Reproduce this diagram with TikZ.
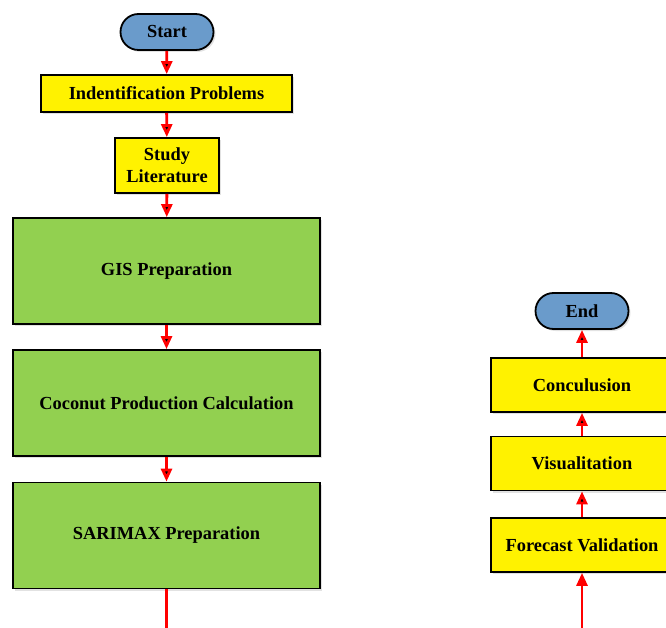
\documentclass[tikz,border=0pt]{standalone}
\usepackage{fontspec}
\setmainfont{Liberation Serif}
\usepackage{xcolor}
\usetikzlibrary{arrows.meta,shadows}
\definecolor{capblue}{RGB}{106,155,203}
\definecolor{boxgreen}{RGB}{146,208,80}
\begin{document}
\begin{tikzpicture}[x=1pt,y=-1pt,->,>={Triangle[width=11pt,length=13pt]},
    font=\fontsize{18.4}{22}\selectfont\bfseries]
    \tikzstyle{every node}=[draw=black, line width=1.8pt, inner sep=0pt, align=center,
        drop shadow={shadow xshift=2pt, shadow yshift=-2pt, fill=gray!45}]
    \tikzstyle{terminal}=[fill=capblue, rounded corners=18pt, minimum width=93pt, minimum height=36pt]
    \tikzstyle{yellowbox}=[fill=yellow]
    \tikzstyle{greenbox}=[fill=boxgreen, minimum width=307pt, minimum height=106pt]
    \tikzstyle{flow}=[draw=red, line width=2.8pt]
    \clip (0,0) rectangle (666,628);
    \node[terminal] (start) at (167, 32){Start};
    \node[yellowbox, minimum width=251pt, minimum height=37pt] (ident) at (166.5, 93.5){Indentification Problems};
    \node[yellowbox, minimum width=104pt, minimum height=55pt] (study) at (167, 165.5){Study\\Literature};
    \node[greenbox] (gis) at (166.5, 271){GIS Preparation};
    \node[greenbox] (coco) at (166.5, 403){Coconut Production Calculation};
    \node[greenbox] (sarimax) at (166.5, 535.5){SARIMAX Preparation};
    \node[terminal] (finish) at (582, 311){End};
    \node[yellowbox, minimum width=182pt, minimum height=54pt] (concl) at (582, 385){Conculusion};
    \node[yellowbox, minimum width=182pt, minimum height=54pt] (visual) at (582, 463.5){Visualitation};
    \node[yellowbox, minimum width=182pt, minimum height=54pt] (forecast) at (582, 545){Forecast Validation};
    \coordinate (outleft) at (166.5, 640);
    \coordinate (inright) at (582, 640);
    \path[flow] (start) edge (ident);
    \path[flow] (ident) edge (study);
    \path[flow] (study) edge (gis);
    \path[flow] (gis) edge (coco);
    \path[flow] (coco) edge (sarimax);
    \draw[flow, -] (sarimax) -- (outleft);
    \draw[flow] (inright) -- (forecast);
    \path[flow] (forecast) edge (visual);
    \path[flow] (visual) edge (concl);
    \path[flow] (concl) edge (finish);
\end{tikzpicture}
\end{document}
